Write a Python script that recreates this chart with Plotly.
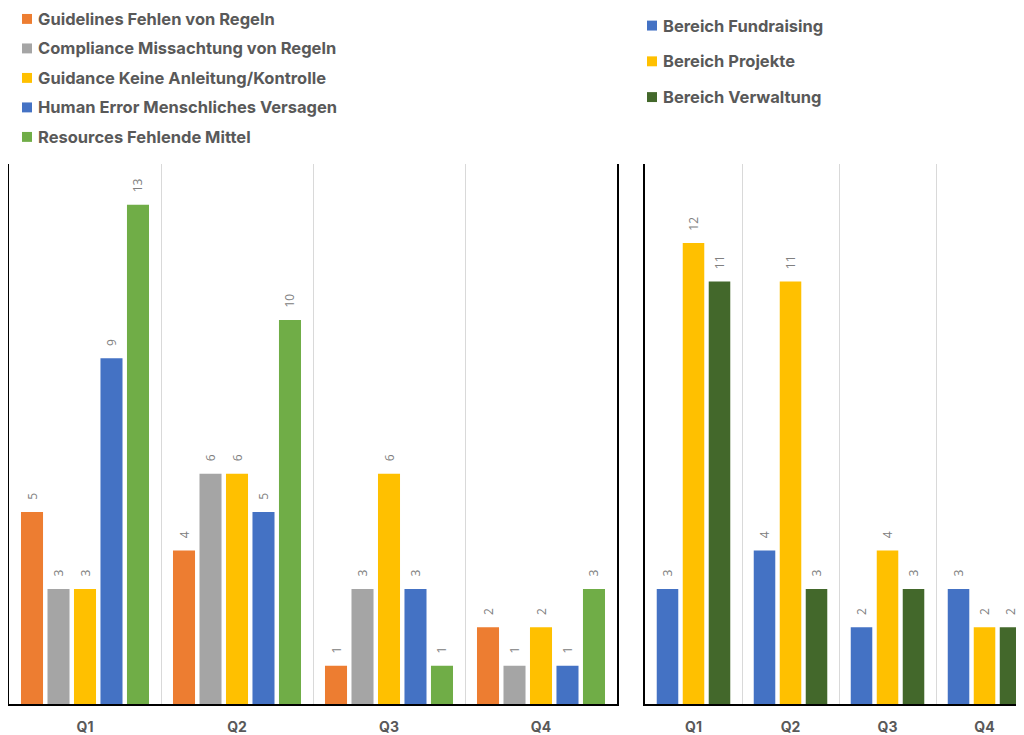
import plotly.graph_objects as go

quarters = ["Q1", "Q2", "Q3", "Q4"]

# Left chart: error causes
cause_names = [
    "Guidelines Fehlen von Regeln",
    "Compliance Missachtung von Regeln",
    "Guidance Keine Anleitung/Kontrolle",
    "Human Error Menschliches Versagen",
    "Resources Fehlende Mittel",
]
guidelines = [5, 4, 1, 2]
compliance = [3, 6, 3, 1]
guidance = [3, 6, 6, 2]
human_error = [9, 5, 3, 1]
resources = [13, 10, 1, 3]
cause_colors = ["#ED7D31", "#A5A5A5", "#FFC000", "#4472C4", "#70AD47"]

# Right chart: departments
dept_names = ["Bereich Fundraising", "Bereich Projekte", "Bereich Verwaltung"]
fundraising = [3, 4, 2, 3]
projekte = [12, 11, 4, 2]
verwaltung = [11, 3, 3, 2]
dept_colors = ["#4472C4", "#FFC000", "#43682B"]

# figure size (page has an 8px body margin)
W, H = 1016, 727
FONT = "Inter"
TXT = "#595959"
LABEL_FMT = "\u00a0\u00a0\u00a0%{y}"


def add_group(series, names, colors, xa, ya, slot, bw):
    n = len(series)
    for i, (name, vals, col) in enumerate(zip(names, series, colors)):
        off = (i - (n - 1) / 2) * slot - bw / 2
        fig.add_trace(go.Bar(
            x=quarters, y=vals, name=name, marker_color=col, marker_line_width=0,
            width=bw, offset=off, texttemplate=LABEL_FMT, textposition="outside",
            textangle=-90, constraintext="none", cliponaxis=False,
            textfont=dict(size=12, color="#808080", family="Open Sans"),
            xaxis=xa, yaxis=ya, showlegend=False,
        ))


fig = go.Figure()
add_group([guidelines, compliance, guidance, human_error, resources],
          cause_names, cause_colors, "x", "y", slot=0.1743, bw=0.145)
add_group([fundraising, projekte, verwaltung],
          dept_names, dept_colors, "x2", "y2", slot=0.268, bw=0.222)

ydom = [(H - 701) / H, (H - 157) / H]
yr = [0, 14.06]
xcommon = dict(type="category", tickson="boundaries", showgrid=True, gridcolor="#D9D9D9",
               gridwidth=1, showline=True, linecolor="black", linewidth=2, ticks="",
               tickfont=dict(family=FONT, size=14, color=TXT, weight="bold"),
               ticklabelstandoff=9, zeroline=False, fixedrange=True)
ycommon = dict(range=yr, showgrid=False, zeroline=False, showticklabels=False,
               showline=True, linecolor="black", linewidth=2, ticks="", fixedrange=True)

# legend (drawn as colored squares + text in paper space)
annotations = []
shapes = []
legend_specs = [
    (cause_names, cause_colors, 14, 11, 29.7),
    (dept_names, dept_colors, 639, 17.7, 36.0),
]
SQ = 10
for names, colors, x0, y0, step in legend_specs:
    for k, (nm, cl) in enumerate(zip(names, colors)):
        yc = y0 + k * step
        shapes.append(dict(type="rect", xref="paper", yref="paper",
                           x0=x0 / W, x1=(x0 + SQ) / W,
                           y0=1 - (yc + SQ / 2) / H, y1=1 - (yc - SQ / 2) / H,
                           fillcolor=cl, line_width=0, layer="above"))
        annotations.append(dict(xref="paper", yref="paper", x=(x0 + SQ + 4) / W,
                                y=1 - yc / H, xanchor="left", yanchor="middle",
                                text=nm, showarrow=False,
                                font=dict(family=FONT, size=16.5, color=TXT, weight="bold")))

fig.update_layout(
    width=W, height=H,
    margin=dict(l=0, r=0, t=0, b=0),
    paper_bgcolor="white", plot_bgcolor="white",
    barmode="overlay",
    font=dict(family=FONT, color=TXT),
    showlegend=False,
    xaxis=dict(domain=[1 / W, 609 / W], range=[-0.5, 3.5], anchor="y", **xcommon),
    yaxis=dict(domain=ydom, anchor="x", mirror=True, **ycommon),
    xaxis2=dict(domain=[637 / W, 1.0], range=[-0.5, 3.407], anchor="y2", **xcommon),
    yaxis2=dict(domain=ydom, anchor="x2", **ycommon),
    annotations=annotations,
    shapes=shapes,
)

fig.write_html("out.html")
